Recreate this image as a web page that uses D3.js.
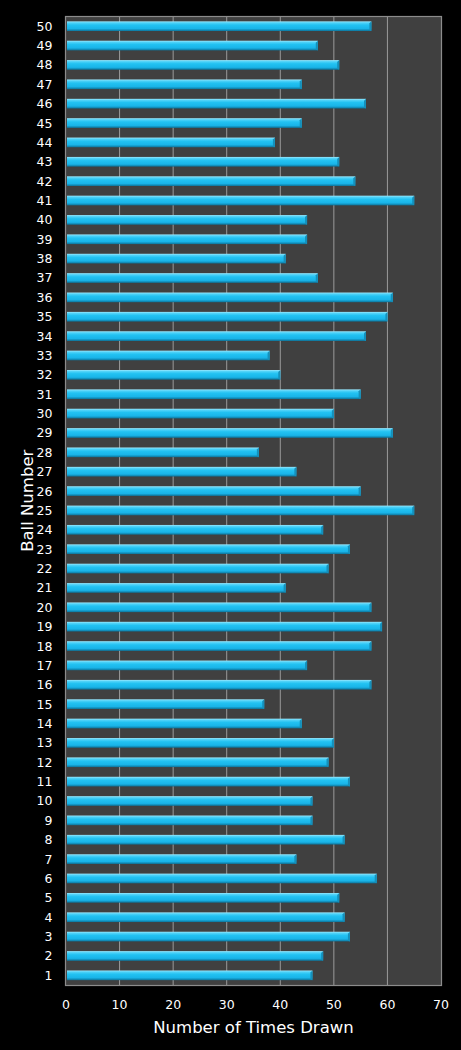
<!DOCTYPE html>
<html>
<head>
<meta charset="utf-8">
<script src="https://cdn.jsdelivr.net/npm/d3@7"></script>
<style>
html,body{margin:0;padding:0;background:#000;}
svg{display:block;}
</style>
</head>
<body>
<script>
const balls = d3.range(1, 51);
const timesDrawn = [46,48,53,52,51,58,43,52,46,46,53,49,50,44,37,57,45,57,59,57,41,49,53,48,65,55,43,36,61,50,55,40,38,56,60,61,47,41,45,45,65,54,51,39,44,56,44,51,47,57];
const xTicks = [0,10,20,30,40,50,60,70];
const xTitle = "Number of Times Drawn";
const yTitle = "Ball Number";

const W = 461, H = 1050;
const m = {left: 66, right: 20, top: 16.5, bottom: 65};
const svg = d3.select("body").append("svg").attr("width", W).attr("height", H);
svg.append("rect").attr("width", W).attr("height", H).attr("fill", "#000");

const x = d3.scaleLinear().domain([0, 70]).range([m.left, W - m.right]);
const y = d3.scaleBand().domain(balls.slice().reverse()).range([m.top, H - m.bottom]).paddingInner(0.5).paddingOuter(0.25);

const defs = svg.append("defs");
const g1 = defs.append("linearGradient").attr("id","barg").attr("x1",0).attr("y1",0).attr("x2",0).attr("y2",1);
[[0,"#9ae8fd"],[0.16,"#4fd2f8"],[0.38,"#22c2f2"],[0.75,"#19b4e8"],[1,"#0c7399"]].forEach(s=>g1.append("stop").attr("offset",s[0]).attr("stop-color",s[1]));

// plot background
svg.append("rect").attr("x", x(0)).attr("y", m.top).attr("width", x(70)-x(0)).attr("height", H-m.bottom-m.top).attr("fill","#404040");

// gridlines
svg.append("g").selectAll("line").data(xTicks.filter(d=>d>0 && d<70)).join("line")
  .attr("x1", d=>x(d)).attr("x2", d=>x(d)).attr("y1", m.top).attr("y2", H-m.bottom)
  .attr("stroke","#9a9a9a").attr("stroke-width",1);

// bars
const bars = svg.append("g").selectAll("g").data(balls).join("g");
bars.append("rect")
  .attr("x", x(0)+1).attr("y", d=>y(d))
  .attr("width", d=>x(timesDrawn[d-1])-x(0)-1).attr("height", y.bandwidth())
  .attr("fill","url(#barg)");
bars.append("path")
  .attr("d", d=>{const xe=x(timesDrawn[d-1]), y0=y(d), h=y.bandwidth();
    return `M${xe-2},${y0+2}L${xe},${y0}L${xe},${y0+h}L${xe-2},${y0+h-1}Z`;})
  .attr("fill","#1590bb");

// border
svg.append("rect").attr("x", x(0)-0.5).attr("y", m.top).attr("width", x(70)-x(0)+1).attr("height", H-m.bottom-m.top+0.5)
  .attr("fill","none").attr("stroke","#8c8c8c").attr("stroke-width",1.2);

// y labels
svg.append("g").selectAll("text").data(balls).join("text")
  .attr("x", 52.5).attr("y", d=>y(d)+y.bandwidth()/2).attr("dy","0.36em")
  .attr("text-anchor","end").attr("fill","#fff")
  .attr("font-family","DejaVu Sans, Verdana, sans-serif").attr("font-size",12.5)
  .text(d=>d);

// x labels
svg.append("g").selectAll("text").data(xTicks).join("text")
  .attr("x", d=>x(d)).attr("y", 1004).attr("dy","0.36em")
  .attr("text-anchor","middle").attr("fill","#fff")
  .attr("font-family","DejaVu Sans, Verdana, sans-serif").attr("font-size",12.5)
  .text(d=>d);

svg.append("text").attr("x", (x(0)+x(70))/2).attr("y", 1033)
  .attr("text-anchor","middle").attr("fill","#fff")
  .attr("font-family","DejaVu Sans, Verdana, sans-serif").attr("font-size",16.5)
  .text(xTitle);

svg.append("text").attr("transform", `translate(33,${(m.top+H-m.bottom)/2}) rotate(-90)`)
  .attr("text-anchor","middle").attr("fill","#fff")
  .attr("font-family","DejaVu Sans, Verdana, sans-serif").attr("font-size",16.5)
  .text(yTitle);
</script>
</body>
</html>
